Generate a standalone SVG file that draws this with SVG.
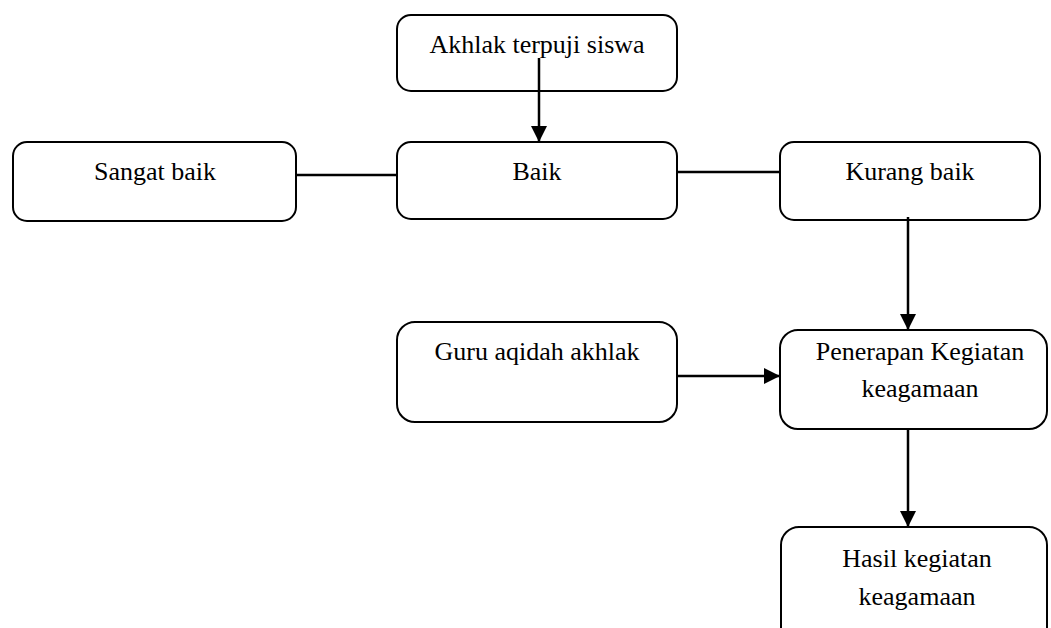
<svg xmlns="http://www.w3.org/2000/svg" width="1051" height="628" viewBox="0 0 1051 628">
<style>
.box{fill:#fff;stroke:#000;stroke-width:2}
.lbl{font-family:"Liberation Serif","Times New Roman",serif;font-size:26px;fill:#000;text-anchor:middle}
.con{stroke:#000;stroke-width:2.5;fill:none}
</style>
<defs>
<marker id="ah" viewBox="0 0 10 10" refX="10" refY="5" markerWidth="16" markerHeight="16" markerUnits="userSpaceOnUse" orient="auto">
<path d="M0,0 L10,5 L0,10 z" fill="#000"/>
</marker>
</defs>
<rect width="1051" height="628" fill="#fff"/>
<g id="n-akhlak"><rect class="box" x="397" y="15" width="280" height="76" rx="14"/><text class="lbl" x="537" y="53">Akhlak terpuji siswa</text></g>
<g id="n-sangat"><rect class="box" x="13" y="142" width="283" height="79" rx="14"/><text class="lbl" x="155" y="180">Sangat baik</text></g>
<g id="n-baik"><rect class="box" x="397" y="142" width="280" height="77" rx="14"/><text class="lbl" x="537" y="180">Baik</text></g>
<g id="n-kurang"><rect class="box" x="780" y="142" width="260" height="78" rx="14"/><text class="lbl" x="910" y="180">Kurang baik</text></g>
<g id="n-guru"><rect class="box" x="397" y="322" width="280" height="100" rx="18"/><text class="lbl" x="537" y="360">Guru aqidah akhlak</text></g>
<g id="n-penerapan"><rect class="box" x="780" y="330" width="267" height="99" rx="18"/><text class="lbl" x="920" y="360">Penerapan Kegiatan</text><text class="lbl" x="920" y="397">keagamaan</text></g>
<g id="n-hasil"><rect class="box" x="781" y="527" width="266" height="120" rx="18"/><text class="lbl" x="917" y="567">Hasil kegiatan</text><text class="lbl" x="917" y="605">keagamaan</text></g>
<g id="connectors">
<line class="con" x1="539" y1="58" x2="539" y2="142" marker-end="url(#ah)"/>
<line class="con" x1="296" y1="175" x2="397" y2="175"/>
<line class="con" x1="677" y1="172" x2="780" y2="172"/>
<line class="con" x1="908" y1="217" x2="908" y2="330" marker-end="url(#ah)"/>
<line class="con" x1="677" y1="376" x2="780" y2="376" marker-end="url(#ah)"/>
<line class="con" x1="908" y1="429" x2="908" y2="527" marker-end="url(#ah)"/>
</g>
</svg>
